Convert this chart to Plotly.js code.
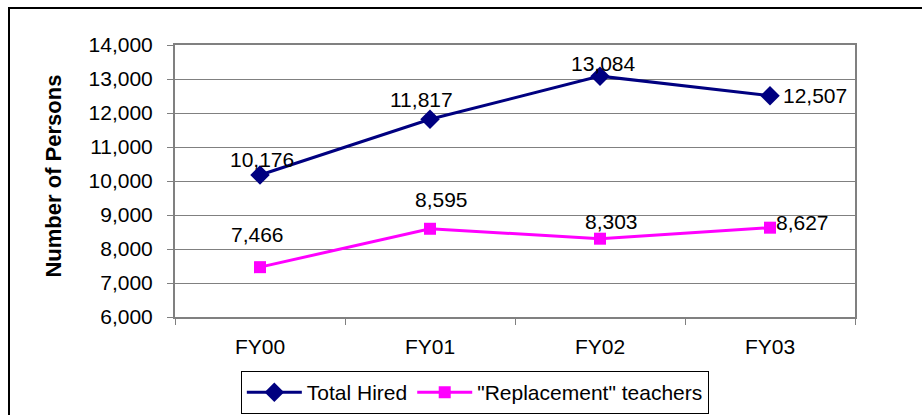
<!DOCTYPE html>
<html>
<head>
<meta charset="utf-8">
<script src="https://cdn.plot.ly/plotly-3.0.1.min.js"></script>
<style>
  html, body { margin:0; padding:0; background:#fff; overflow:hidden; }
  #chart { width:922px; height:415px; }
  #frame { position:absolute; left:8px; top:7px; width:2000px; height:2000px;
           border-left:2px solid #000; border-top:2px solid #000; pointer-events:none; }
</style>
</head>
<body>
<div id="chart"></div>
<div id="frame"></div>
<script>
const categories = ["FY00", "FY01", "FY02", "FY03"];
const totalHired = [10176, 11817, 13084, 12507];
const replacement = [7466, 8595, 8303, 8627];
const seriesNames = ["Total Hired", "\"Replacement\" teachers"];
const yTicks = [6000, 7000, 8000, 9000, 10000, 11000, 12000, 13000, 14000];

// label offsets (pixels) relative to each point
const totalOffsets = [[2, 16], [-9, 20], [3, 13], [45, 0]];
const replOffsets = [[-3, 33], [11, 29], [11, 17], [32, 5]];

const fmt = v => v.toLocaleString("en-US");
const font = {family: "Liberation Sans, Arial, sans-serif", size: 21, color: "#000"};

const traces = [
  {
    x: categories, y: totalHired, name: seriesNames[0], type: "scatter", mode: "lines+markers",
    line: {color: "#000080", width: 3},
    marker: {symbol: "diamond", size: 15, color: "#000080"}
  },
  {
    x: categories, y: replacement, name: seriesNames[1], type: "scatter", mode: "lines+markers",
    line: {color: "#FF00FF", width: 3},
    marker: {symbol: "square", size: 12, color: "#FF00FF"}
  }
];

const annotations = [];
categories.forEach((c, i) => {
  annotations.push({x: c, y: totalHired[i], xref: "x", yref: "y", text: fmt(totalHired[i]),
    showarrow: false, xshift: totalOffsets[i][0], yshift: totalOffsets[i][1], font: font});
  annotations.push({x: c, y: replacement[i], xref: "x", yref: "y", text: fmt(replacement[i]),
    showarrow: false, xshift: replOffsets[i][0], yshift: replOffsets[i][1], font: font});
});
annotations.push({
  text: "<b>Number of Persons</b>", xref: "paper", yref: "paper", x: -0.178, y: 0.52,
  xanchor: "center", yanchor: "middle",
  textangle: -90, showarrow: false, font: {family: font.family, size: 22, color: "#000"}
});

const layout = {
  width: 922, height: 415,
  margin: {l: 175, r: 67, t: 45, b: 98},
  paper_bgcolor: "#fff", plot_bgcolor: "#fff",
  showlegend: true,
  legend: {
    orientation: "h", xref: "container", yref: "container",
    x: 0.515, xanchor: "center", y: 0.106, yanchor: "top",
    bordercolor: "#000", borderwidth: 1, font: font, bgcolor: "#fff",
    itemwidth: 55, tracegroupgap: 0
  },
  xaxis: {
    type: "category", range: [-0.5, 3.5], tickson: "boundaries", ticks: "outside", ticklen: 6, tickcolor: "#808080",
    showline: true, linecolor: "#808080", linewidth: 2, mirror: true,
    showgrid: false, tickfont: font, ticklabelstandoff: 10, fixedrange: true
  },
  yaxis: {
    range: [6000, 14000], tickvals: yTicks, ticktext: yTicks.map(fmt),
    ticks: "outside", ticklen: 6, tickcolor: "#808080",
    showline: true, linecolor: "#808080", linewidth: 2, mirror: true,
    showgrid: true, gridcolor: "#808080", gridwidth: 1, zeroline: false,
    tickfont: font, ticklabelstandoff: 10, fixedrange: true
  },
  annotations: annotations
};

Plotly.newPlot("chart", traces, layout, {displayModeBar: false, staticPlot: true});
</script>
</body>
</html>
